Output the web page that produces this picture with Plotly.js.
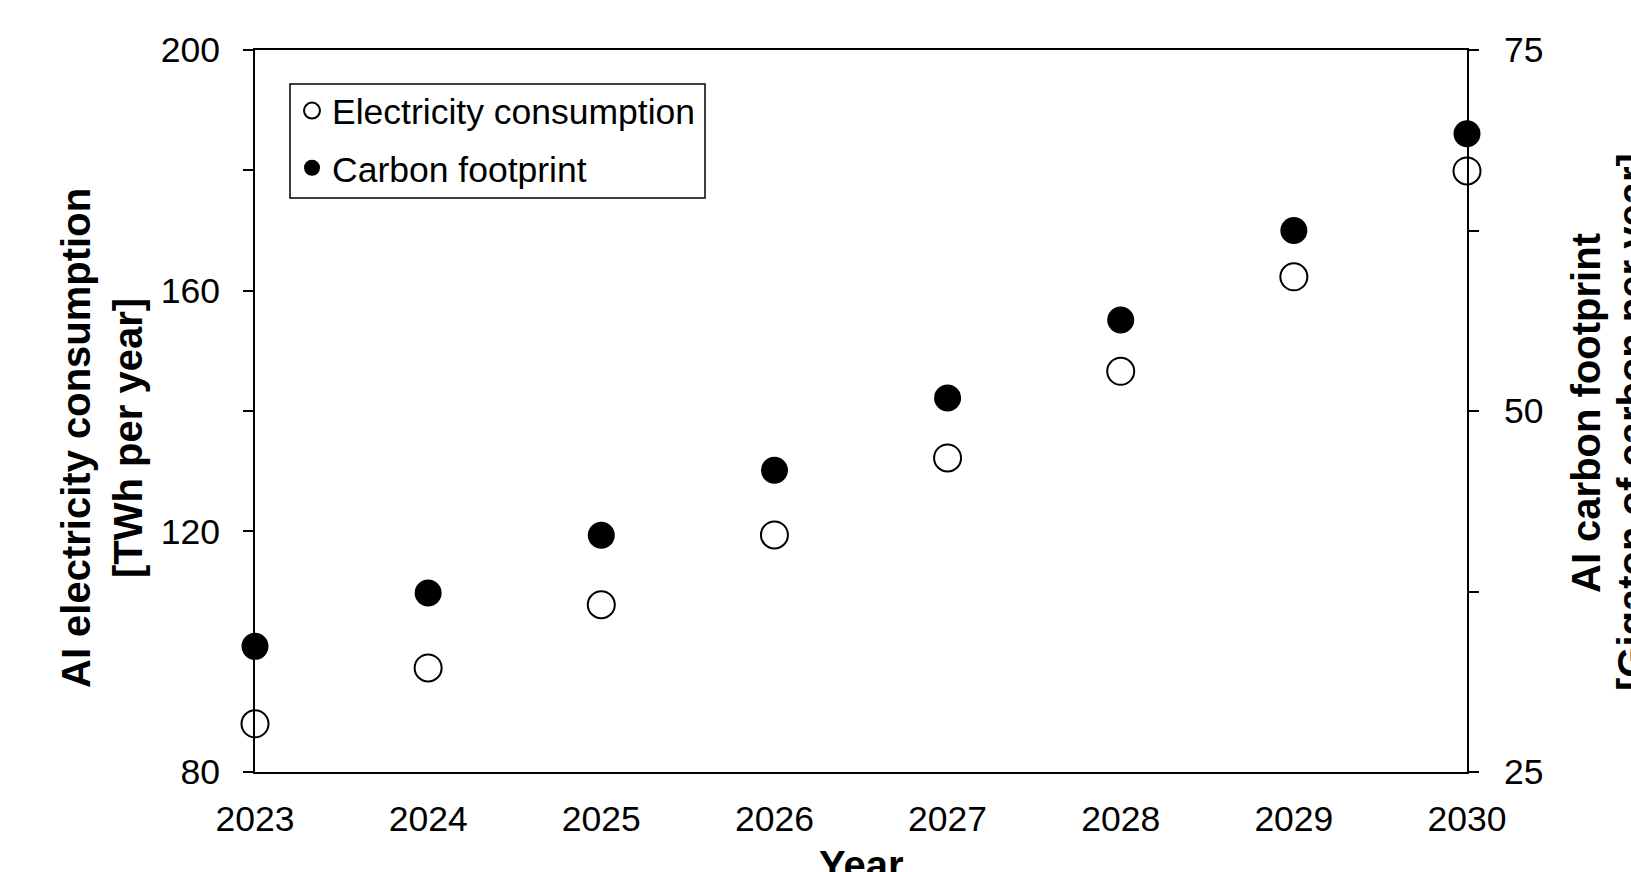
<!DOCTYPE html>
<html>
<head>
<meta charset="utf-8">
<script src="https://cdn.plot.ly/plotly-3.0.1.min.js"></script>
<style>html,body{margin:0;padding:0;background:#fff;}#chart{width:1631px;height:872px;}</style>
</head>
<body>
<div id="chart"></div>
<script>
const years = [2023, 2024, 2025, 2026, 2027, 2028, 2029, 2030];
const electricityTWh = [88.0, 97.3, 107.8, 119.4, 132.2, 146.6, 162.3, 179.9];
const carbonGt = [33.7, 37.4, 41.4, 45.9, 50.9, 56.3, 62.5, 69.2];
const leftTicks = [80, 120, 160, 200];
const leftMinorTicks = [100, 140, 180];
const rightTicks = [25, 50, 75];
const rightMinorTicks = [37.5, 62.5];
const xTicks = years;

const FONT = '"Liberation Sans", Arial, Helvetica, sans-serif';
const FS = 35.5;

const traces = [
  {
    x: years, y: electricityTWh, name: 'Electricity consumption',
    type: 'scatter', mode: 'markers', yaxis: 'y', cliponaxis: false,
    legendgroup: 'a',
    marker: {symbol: 'circle-open', size: 27, color: '#000', line: {width: 2, color: '#000'}}
  },
  {
    x: years, y: carbonGt, name: 'Carbon footprint',
    type: 'scatter', mode: 'markers', yaxis: 'y2', cliponaxis: false,
    legendgroup: 'b',
    marker: {symbol: 'circle', size: 27, color: '#000'}
  }
];

// legend frame (pixel box converted to paper coordinates)
const plotL = 255, plotW = 1212, plotB = 772, plotH = 722;
const px = v => (v - plotL) / plotW;
const py = v => (plotB - v) / plotH;

const layout = {
  width: 1631, height: 872,
  margin: {l: 255, r: 164, t: 50, b: 100, pad: 0},
  paper_bgcolor: '#fff', plot_bgcolor: '#fff',
  font: {family: FONT, size: FS, color: '#000'},
  showlegend: true,
  legend: {
    x: px(292), y: py(81), xanchor: 'left', yanchor: 'top',
    bgcolor: 'rgba(0,0,0,0)', borderwidth: 0,
    font: {family: FONT, size: FS, color: '#000'},
    traceorder: 'grouped', tracegroupgap: 8,
    itemwidth: 30
  },
  shapes: [
    {type: 'rect', xref: 'paper', yref: 'paper',
     x0: px(290), x1: px(705), y0: py(198), y1: py(84),
     line: {color: '#000', width: 1.5}, fillcolor: 'rgba(0,0,0,0)', layer: 'above'}
  ],
  xaxis: {
    range: [2023, 2030], tickvals: xTicks, ticktext: xTicks.map(String),
    showline: true, linecolor: '#000', linewidth: 2, mirror: true,
    ticks: '', showgrid: false, zeroline: false,
    ticklabelstandoff: 14,
    tickfont: {family: FONT, size: FS, color: '#000'}
  },
  yaxis: {
    range: [80, 200], tickvals: leftTicks,
    showline: true, linecolor: '#000', linewidth: 2,
    ticks: 'outside', ticklen: 10, tickwidth: 2, tickcolor: '#000',
    minor: {tickvals: leftMinorTicks, ticks: 'outside', ticklen: 10, tickwidth: 2, tickcolor: '#000', showgrid: false},
    showgrid: false, zeroline: false,
    ticklabelstandoff: 16,
    tickfont: {family: FONT, size: FS, color: '#000'}
  },
  yaxis2: {
    range: [25, 75], tickvals: rightTicks, overlaying: 'y', side: 'right',
    showline: true, linecolor: '#000', linewidth: 2,
    ticks: 'outside', ticklen: 10, tickwidth: 2, tickcolor: '#000',
    minor: {tickvals: rightMinorTicks, ticks: 'outside', ticklen: 10, tickwidth: 2, tickcolor: '#000', showgrid: false},
    showgrid: false, zeroline: false,
    ticklabelstandoff: 18,
    tickfont: {family: FONT, size: FS, color: '#000'}
  },
  annotations: [
    {
      text: 'AI electricity consumption<br>[TWh per year]',
      xref: 'paper', yref: 'paper', x: px(102), y: py(438),
      xanchor: 'center', yanchor: 'middle', textangle: -90, showarrow: false,
      font: {family: FONT, size: 40, color: '#000', weight: 'bold'}
    },
    {
      text: 'AI carbon footprint',
      xref: 'paper', yref: 'paper', x: px(1586), y: py(413),
      xanchor: 'center', yanchor: 'middle', textangle: -90, showarrow: false,
      font: {family: FONT, size: 40, color: '#000', weight: 'bold'}
    },
    {
      text: '[Gigaton of carbon per year]',
      xref: 'paper', yref: 'paper', x: px(1632), y: py(422),
      xanchor: 'center', yanchor: 'middle', textangle: -90, showarrow: false,
      font: {family: FONT, size: 40, color: '#000', weight: 'bold'}
    },
    {
      text: 'Year',
      xref: 'paper', yref: 'paper', x: 0.5, y: -0.0956,
      xanchor: 'center', yanchor: 'top', showarrow: false,
      font: {family: FONT, size: 40, color: '#000', weight: 'bold'}
    }
  ]
};

Plotly.newPlot('chart', traces, layout, {displayModeBar: false, staticPlot: true});
</script>
</body>
</html>
